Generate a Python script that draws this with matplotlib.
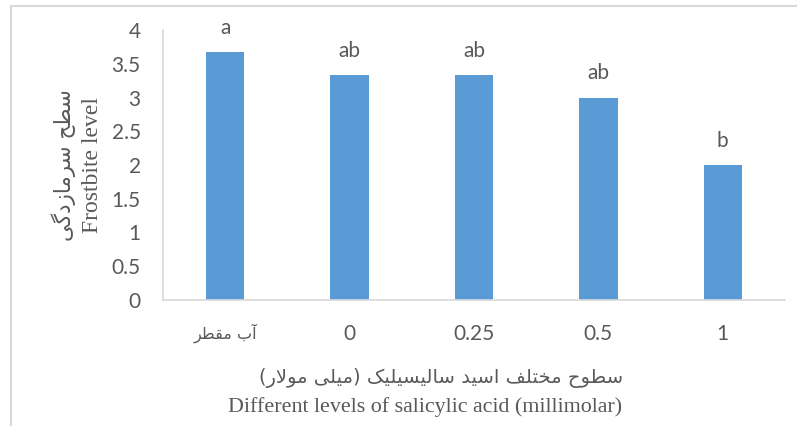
import matplotlib
matplotlib.use("Agg")
import matplotlib.pyplot as plt
from matplotlib.lines import Line2D

# data
categories = ["آب مقطر", "0", "0.25", "0.5", "1"]
values = [3.67, 3.33, 3.33, 3.0, 2.0]
letters = ["a", "ab", "ab", "ab", "b"]
yticks = [0, 0.5, 1, 1.5, 2, 2.5, 3, 3.5, 4]
ylabel_fa = "سطح سرمازدگی"
ylabel_en = "Frostbite level"
xlabel_fa = "سطوح مختلف اسید سالیسیلیک (میلی مولار)"
xlabel_en = "Different levels of salicylic acid (millimolar)"

BAR = "#5B9BD5"
TXT = "#595959"
GRID = "#D9D9D9"

# --- minimal Persian shaping (matplotlib has no complex text layout) ---
# forms: isolated, final, initial, medial
FORMS = {
    "ا": ("\uFE8D", "\uFE8E", None, None),
    "آ": ("\uFE81", "\uFE82", None, None),
    "ب": ("\uFE8F", "\uFE90", "\uFE91", "\uFE92"),
    "ت": ("\uFE95", "\uFE96", "\uFE97", "\uFE98"),
    "ح": ("\uFEA1", "\uFEA2", "\uFEA3", "\uFEA4"),
    "خ": ("\uFEA5", "\uFEA6", "\uFEA7", "\uFEA8"),
    "د": ("\uFEA9", "\uFEAA", None, None),
    "ر": ("\uFEAD", "\uFEAE", None, None),
    "ز": ("\uFEAF", "\uFEB0", None, None),
    "س": ("\uFEB1", "\uFEB2", "\uFEB3", "\uFEB4"),
    "ط": ("\uFEC1", "\uFEC2", "\uFEC3", "\uFEC4"),
    "ف": ("\uFED1", "\uFED2", "\uFED3", "\uFED4"),
    "ق": ("\uFED5", "\uFED6", "\uFED7", "\uFED8"),
    "ل": ("\uFEDD", "\uFEDE", "\uFEDF", "\uFEE0"),
    "م": ("\uFEE1", "\uFEE2", "\uFEE3", "\uFEE4"),
    "و": ("\uFEED", "\uFEEE", None, None),
    "ی": ("\uFBFC", "\uFBFD", "\uFBFE", "\uFBFF"),
    "ک": ("\uFB8E", "\uFB8F", "\uFB90", "\uFB91"),
    "گ": ("\uFB92", "\uFB93", "\uFB94", "\uFB95"),
}
LAM_ALEF = {"ا": ("\uFEFB", "\uFEFC"), "آ": ("\uFEF5", "\uFEF6")}
MIRROR = {"(": ")", ")": "("}


def dual(c):
    return c in FORMS and FORMS[c][2] is not None


def shape_fa(text):
    out = []
    i = 0
    n = len(text)
    while i < n:
        c = text[i]
        if c not in FORMS:
            out.append(MIRROR.get(c, c))
            i += 1
            continue
        prev = text[i - 1] if i > 0 else ""
        joins_prev = dual(prev)
        if c == "ل" and i + 1 < n and text[i + 1] in LAM_ALEF:
            out.append(LAM_ALEF[text[i + 1]][1 if joins_prev else 0])
            i += 2
            continue
        nxt = text[i + 1] if i + 1 < n else ""
        joins_next = dual(c) and nxt in FORMS
        iso, fin, ini, med = FORMS[c]
        if joins_prev and joins_next:
            g = med
        elif joins_prev:
            g = fin
        elif joins_next:
            g = ini
        else:
            g = iso
        out.append(g)
        i += 1
    return "".join(reversed(out))


fig = plt.figure(figsize=(7.97, 4.26), dpi=100)
ax = fig.add_axes([163 / 797, 1 - 300 / 426, (785 - 163) / 797, 270 / 426])

x = list(range(len(categories)))
bars = ax.bar(x, values, width=0.31, color=BAR, zorder=2)
ax.set_xlim(-0.5, len(categories) - 0.5)
ax.set_ylim(0, 4)
ax.set_yticks(yticks)
ax.set_yticklabels([f"{t:g}" for t in yticks], fontfamily="Lato", fontsize=15, color=TXT)
ax.set_xticks(x)
ax.set_xticklabels([shape_fa(categories[0])] + categories[1:], fontfamily="Lato",
                   fontsize=15, color=TXT)
ax.get_xticklabels()[0].set_fontfamily("DejaVu Sans")
ax.get_xticklabels()[0].set_fontsize(11.5)
ax.tick_params(axis="both", length=0)
ax.tick_params(axis="y", pad=16)
ax.tick_params(axis="x", pad=17)

for s in ["top", "right"]:
    ax.spines[s].set_visible(False)
for s in ["left", "bottom"]:
    ax.spines[s].set_color(GRID)
    ax.spines[s].set_linewidth(1.2)

for xi, v, lab in zip(x, values, letters):
    ax.annotate(lab, (xi, v), xytext=(0, 13), textcoords="offset points",
                ha="center", va="baseline", fontfamily="Lato", fontsize=15, color=TXT)

# axis titles
fig.text(64 / 797, 1 - 165 / 426, shape_fa(ylabel_fa), rotation=90, ha="center", va="center",
         fontfamily="DejaVu Sans", fontsize=15.5, color=TXT)
fig.text(92 / 797, 1 - 165 / 426, ylabel_en, rotation=90, ha="center", va="center",
         fontfamily="Liberation Serif", fontsize=17, color=TXT)
fig.text(441 / 797, 1 - 378 / 426, shape_fa(xlabel_fa), ha="center", va="center",
         fontfamily="DejaVu Sans", fontsize=14, color=TXT)
fig.text(425 / 797, 1 - 407 / 426, xlabel_en, ha="center", va="center",
         fontfamily="Liberation Serif", fontsize=15.8, color=TXT)

# chart area frame (cropped at right and bottom)
fig.add_artist(Line2D([10.5 / 797, 10.5 / 797], [0, 1 - 6 / 426], transform=fig.transFigure,
                      color=GRID, lw=1.5))
fig.add_artist(Line2D([10.5 / 797, 1], [1 - 6 / 426, 1 - 6 / 426], transform=fig.transFigure,
                      color=GRID, lw=1.5))

fig.savefig("out.png", dpi=100)
